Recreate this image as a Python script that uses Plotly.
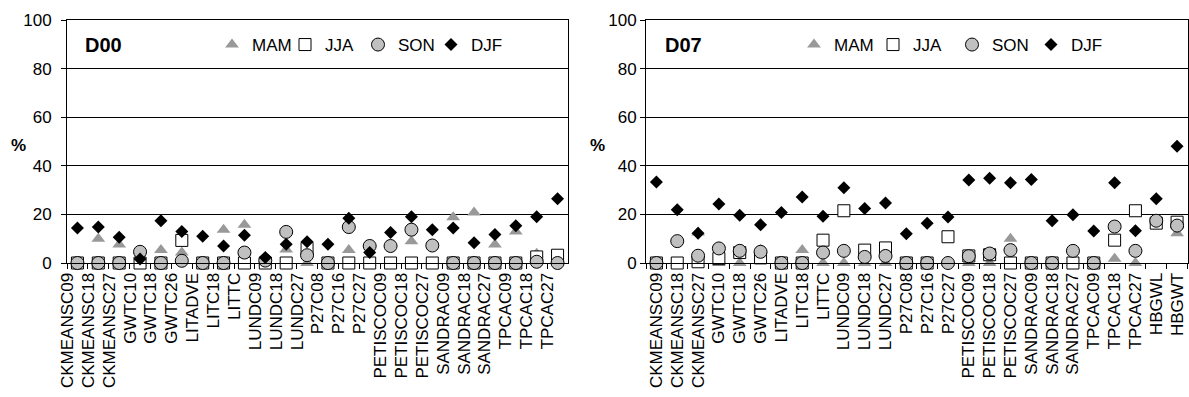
import plotly.graph_objects as go

W, H = 1189, 397
FONT = "Arial, Liberation Sans, sans-serif"

cats_d00 = ["CKMEANSC09", "CKMEANSC18", "CKMEANSC27", "GWTC10", "GWTC18", "GWTC26",
            "LITADVE", "LITC18", "LITTC", "LUNDC09", "LUNDC18", "LUNDC27",
            "P27C08", "P27C16", "P27C27", "PETISCOC09", "PETISCOC18", "PETISCOC27",
            "SANDRAC09", "SANDRAC18", "SANDRAC27", "TPCAC09", "TPCAC18", "TPCAC27"]
cats_d07 = cats_d00 + ["HBGWL", "HBGWT"]

mam_d00 = [0, 10, 7.6, 0, 5.4, 4.3, 0, 13.7, 15.7, 0, 5.6, 0,
           0, 5.4, 0, 0, 9, 0, 18.8, 20.8, 7.6, 13, 3.8, 0]
jja_d00 = [0, 0, 0, 0, 0, 9.3, 0, 0, 0, 0, 0, 6.0,
           0, 0, 0, 0, 0, 0, 0, 0, 0, 0, 2.5, 3.2]
son_d00 = [0, 0, 0, 4.6, 0, 0.9, 0, 0, 4.3, 1, 12.8, 3.2,
           0, 14.8, 7, 7, 13.7, 7.2, 0, 0, 0, 0, 0.5, 0]
djf_d00 = [14.4, 14.8, 10.6, 1.6, 17.4, 13, 11, 7, 11.4, 2.3, 7.7, 8.7,
           7.7, 18.4, 4.3, 12.6, 19, 13.7, 14.4, 8.3, 11.7, 15.3, 19, 26.4]

mam_d07 = [0, 0, 12.5, 0, 0, 5.5, 0, 5.3, 0, 0, 0, 0, 0,
           0, 0, 0, 0, 10, 0, 0, 0, 0, 1.8, 0, 17.5, 12.2]
jja_d07 = [0, 0, 0.5, 1.8, 4.3, 2.1, 0, 0, 9.4, 21.5, 5.3, 6.2, 0,
           0, 10.8, 2.9, 3.4, 0, 0, 0, 0, 0, 9.4, 21.5, 16.4, 16.8]
son_d07 = [0, 9, 3, 6, 5, 4.6, 0, 0, 4.3, 5, 2.5, 2.9, 0,
           0, 0, 2.8, 3.9, 5.3, 0, 0, 5, 0, 15, 5, 17.4, 15.4]
djf_d07 = [33.3, 21.9, 12.2, 24.3, 19.6, 15.7, 20.8, 27.2, 19.2, 31, 22.4, 24.7, 12,
           16.4, 18.9, 34.2, 34.9, 33, 34.4, 17.4, 19.9, 13.2, 33, 13.3, 26.4, 48]

seasons = ["MAM", "JJA", "SON", "DJF"]
styles = {
    "MAM": dict(symbol="triangle-up", size=12, color="#999999", line=dict(width=0)),
    "JJA": dict(symbol="square", size=12, color="white", line=dict(color="black", width=1)),
    "SON": dict(symbol="circle", size=13, color="#c0c0c0", line=dict(color="black", width=1)),
    "DJF": dict(symbol="diamond", size=10, color="black", line=dict(width=0)),
}

fig = go.Figure()
panels = [
    ("x", "y", "legend", cats_d00, [mam_d00, jja_d00, son_d00, djf_d00]),
    ("x2", "y2", "legend2", cats_d07, [mam_d07, jja_d07, son_d07, djf_d07]),
]
for xa, ya, lg, cats, series in panels:
    for name, vals in zip(seasons, series):
        fig.add_trace(go.Scatter(
            x=cats, y=vals, mode="markers", name=name, xaxis=xa, yaxis=ya,
            legend=lg, marker=styles[name], cliponaxis=False, hoverinfo="x+y+name"))

px = lambda v: v / W
py = lambda v: 1 - v / H
ytop, ybot = 20, 263

common_x = dict(type="category", showline=True, linecolor="black", linewidth=1, mirror=True,
                ticks="outside", ticklen=5, tickcolor="black", tickson="boundaries",
                tickangle=-90, tickfont=dict(size=17, color="black", family=FONT),
                showgrid=False, zeroline=False, automargin=False)
common_y = dict(range=[0, 100], dtick=20, showgrid=True, gridcolor="black", gridwidth=1,
                showline=True, linecolor="black", linewidth=1, mirror=True,
                ticks="outside", ticklen=5, tickcolor="black", zeroline=False,
                automargin=False, tickfont=dict(size=17, color="black", family=FONT))

fig.update_layout(
    width=W, height=H, margin=dict(l=0, r=0, t=0, b=0, autoexpand=False),
    paper_bgcolor="white", plot_bgcolor="white",
    font=dict(family=FONT, size=17, color="black"),
    xaxis=dict(common_x, domain=[px(67), px(568)], anchor="y",
               range=[-0.5, len(cats_d00) - 0.5], ticklabelshift=-10, ticklabelstandoff=2),
    yaxis=dict(common_y, domain=[py(ybot), py(ytop)], anchor="x", ticklabelstandoff=6),
    xaxis2=dict(common_x, domain=[px(646), px(1187.5)], anchor="y2",
                range=[-0.5, len(cats_d07) - 0.5], ticklabelstandoff=2),
    yaxis2=dict(common_y, domain=[py(ybot), py(ytop)], anchor="x2", ticklabelstandoff=0),
    legend=dict(orientation="h", x=px(212), y=py(45), xanchor="left", yanchor="middle",
                bgcolor="rgba(0,0,0,0)", font=dict(size=17), entrywidth=28,
                entrywidthmode="pixels", itemclick=False),
    legend2=dict(orientation="h", x=px(794), y=py(45), xanchor="left", yanchor="middle",
                 bgcolor="rgba(0,0,0,0)", font=dict(size=17), entrywidth=34,
                 entrywidthmode="pixels", itemclick=False),
    showlegend=True,
)

annots = [
    dict(text="<b>D00</b>", x=px(83), y=py(45), xanchor="left", yanchor="middle", font=dict(size=20)),
    dict(text="<b>D07</b>", x=px(663), y=py(45), xanchor="left", yanchor="middle", font=dict(size=20)),
    dict(text="<b>%</b>", x=px(18), y=py(145), xanchor="center", yanchor="middle", font=dict(size=17)),
    dict(text="<b>%</b>", x=px(597), y=py(145), xanchor="center", yanchor="middle", font=dict(size=17)),
]
for a in annots:
    fig.add_annotation(xref="paper", yref="paper", showarrow=False, **a)

fig.write_html("out.html")
